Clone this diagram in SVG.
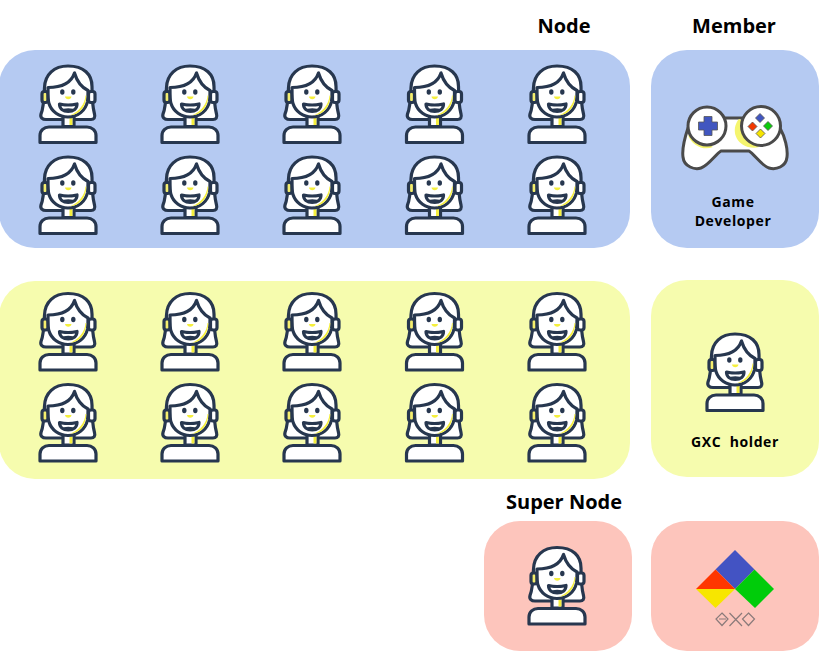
<svg xmlns="http://www.w3.org/2000/svg" width="825" height="661" viewBox="0 0 825 661">
<style>
.t{font-family:"Open Sans","Noto Sans",sans-serif;font-weight:700;fill:#000;text-anchor:middle;white-space:pre}
.h{font-size:20px}
.s{font-size:14px;letter-spacing:.6px}
.blue{fill:#b5caf2}.yel{fill:#f6fcae}.pink{fill:#fdc5bc}
.o{stroke:#27374f;stroke-width:3.200;stroke-linejoin:round;stroke-linecap:round}
.c{stroke:#4a4a4a;stroke-width:3;stroke-linejoin:round}
</style>
<defs>
<g id="person">
<path class="o" fill="#fff" d="M48 11.500C34 11.500 25 20 24.500 33C24 46 23 55 21 59.500C20 63 22.500 65 26 65L71 65C74 65 75.500 63 74.500 59.500C72.500 52 72 42 72 32C72 20 64 11.500 48 11.500Z"/>
<rect class="o" x="22" y="37" width="6" height="11" rx="2.500" fill="#f5ef6e"/>
<rect class="o" x="68.500" y="37" width="6.500" height="11" rx="2.500" fill="#fff"/>
<path class="o" fill="#fff" d="M43 60H54V72H43Z"/>
<path fill="#f5ef3c" d="M49.500 63.500H52.400V70.500H49.500Z"/>
<path class="o" fill="#fff" d="M28 33C28 44 28 47 29 49C31.500 57 39 62.500 48 62.500C58 62.500 65.500 56 67.500 47C68 44 68 40 68 36C62 33 57 27 54.500 18.500C51 29 40 33 28 33Z"/>
<path fill="#f5ef3c" d="M65.500 41C65 50 58 58 50 60.800C58.500 60.500 66.300 53 66.300 41Z"/>
<ellipse cx="42.300" cy="37.500" rx="2.200" ry="2.800" fill="#27374f"/>
<ellipse cx="53.300" cy="37.500" rx="2.200" ry="2.800" fill="#27374f"/>
<path fill="#f5ef3c" d="M45 42H51.500Q51 44.800 48.200 44.800Q45.500 44.800 45 42Z"/>
<path class="o" fill="#27374f" d="M39.500 49.500C44 50.800 52 50.800 57 49.500C57 54 53.500 57 48.200 57C43 57 39.500 54 39.500 49.500Z"/>
<path fill="#fff" d="M41.500 51.500C46 52.200 51 52.200 55 51.500C54.800 52.800 54 53.800 53 54.300Q48.200 53.300 43.500 54.300C42.500 53.800 41.800 52.800 41.500 51.500Z"/>
<path class="o" fill="#fff" d="M20 88V81C20 76 24 72.500 29 72.500H67C72 72.500 76 76 76 81V88Z"/>
</g>
</defs>

<g id="titles">
<text class="t h" x="564" y="33">Node</text>
<text class="t h" x="734" y="33">Member</text>
<text class="t h" x="564" y="509">Super Node</text>
</g>

<g id="node-blue-panel"><rect class="blue" x="-1" y="50" width="631" height="198" rx="36"/></g>
<g id="member-blue-panel"><rect class="blue" x="651" y="50" width="168" height="198" rx="36"/></g>
<g id="node-yellow-panel"><rect class="yel" x="-1" y="281" width="631" height="198" rx="36"/></g>
<g id="member-yellow-panel"><rect class="yel" x="651" y="280" width="168" height="197" rx="36"/></g>
<g id="super-panel"><rect class="pink" x="484" y="521" width="148" height="130" rx="36"/></g>
<g id="gxc-panel"><rect class="pink" x="651" y="521" width="168" height="130" rx="36"/></g>

<g id="people-blue">
<use href="#person" x="20" y="54.500"/><use href="#person" x="142" y="54.500"/><use href="#person" x="264" y="54.500"/><use href="#person" x="386.500" y="54.500"/><use href="#person" x="509" y="54.500"/>
<use href="#person" x="20" y="145.500"/><use href="#person" x="142" y="145.500"/><use href="#person" x="264" y="145.500"/><use href="#person" x="386.500" y="145.500"/><use href="#person" x="509" y="145.500"/>
</g>
<g id="people-yellow">
<use href="#person" x="20" y="282"/><use href="#person" x="142" y="282"/><use href="#person" x="264" y="282"/><use href="#person" x="386.500" y="282"/><use href="#person" x="509" y="282"/>
<use href="#person" x="20" y="373"/><use href="#person" x="142" y="373"/><use href="#person" x="264" y="373"/><use href="#person" x="386.500" y="373"/><use href="#person" x="509" y="373"/>
</g>
<g id="holder"><use href="#person" x="687" y="322.500"/><text class="t s" x="735" y="447">GXC  holder</text></g>
<g id="super"><use href="#person" x="509" y="536"/></g>

<g id="gamepad">
<path class="c" fill="#fff" d="M688 128C685 137 682 150 683 157C684 167 695 170 701 168C708 166 716 154 721 151H749C754 154 762 166 769 168C776 170 786 167 787 157C788 149 785 137 780 128L760 118H708Z"/>
<path fill="#f5f56e" d="M688 135C692 146 704 151 713 147L700 140ZM739 119C732 127 733 142 748 147C752 148 756 148 759 147L745 122Z"/>
<circle class="c" cx="707" cy="126" r="19" fill="#fff"/>
<circle class="c" cx="761" cy="126" r="19.500" fill="#fff"/>
<path d="M704 116.500H712V122H717.500V130H712V135.500H704V130H698.500V122H704Z" fill="#4156c0" stroke="#555" stroke-width=".8"/>
<g stroke="#555" stroke-width=".8">
<path fill="#4156c0" d="M760 113.500L764.500 118L760 122.500L755.500 118Z"/>
<path fill="#f33800" d="M752.500 122L757 126.500L752.500 131L748 126.500Z"/>
<path fill="#0ccb0c" d="M768 121.500L772.500 126L768 130.500L763.500 126Z"/>
<path fill="#f5e400" d="M760.500 129L765 133.500L760.500 138L756 133.500Z"/>
</g>
</g>
<g id="game-developer">
<text class="t s" x="733" y="207">Game</text>
<text class="t s" x="733" y="226">Developer</text>
</g>

<g id="gxc-logo">
<path fill="#4353c3" d="M735 550L754.500 569.500L735 589L715.500 569.500Z"/>
<path fill="#00cc0a" d="M754.500 569.500L774 589L755 608L735 589Z"/>
<path fill="#ff3600" d="M715.500 569.500L735 589H696Z"/>
<path fill="#f7e600" d="M696 589H735L715.500 608Z"/>
<g fill="none" stroke="#8a7a7a" stroke-width="1.200">
<path d="M722 613L728 619L722 625.500L716 619ZM719 619H726"/>
<path d="M729.500 613L742 626M742 613L729.500 626"/>
<path d="M748.500 613L754.500 619L748.500 625.500L742.500 619Z"/>
</g>
</g>
</svg>
